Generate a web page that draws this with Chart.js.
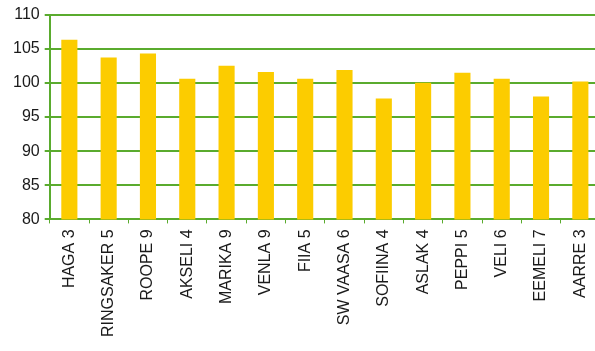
<!DOCTYPE html>
<html>
<head>
<meta charset="utf-8">
<script src="https://cdn.jsdelivr.net/npm/chart.js@4"></script>
<style>
html,body{margin:0;padding:0;background:#fff;overflow:hidden;}
#wrap{width:595px;height:351px;overflow:hidden;}
</style>
</head>
<body>
<div id="wrap"><canvas id="c" width="600" height="351"></canvas></div>
<script>
const categories = ["HAGA 3","RINGSAKER 5","ROOPE 9","AKSELI 4","MARIKA 9","VENLA 9","FIIA 5","SW VAASA 6","SOFIINA 4","ASLAK 4","PEPPI 5","VELI 6","EEMELI 7","AARRE 3"];
const values = [106.3,103.7,104.3,100.6,102.5,101.6,100.6,101.9,97.7,100.0,101.5,100.6,98.0,100.2];
const yTicks = [80,85,90,95,100,105,110];

const green = '#5aab2e';
new Chart(document.getElementById('c'), {
  type: 'bar',
  data: {
    labels: categories,
    datasets: [{
      data: values,
      backgroundColor: '#fccc00',
      borderWidth: 0,
      barPercentage: 0.41,
      categoryPercentage: 1.0
    }]
  },
  options: {
    responsive: false,
    animation: false,
    events: [],
    layout: { padding: { top: 8, right: 0, bottom: 8, left: 8 } },
    plugins: { legend: { display: false }, tooltip: { enabled: false } },
    scales: {
      x: {
        offset: true,
        afterFit: (axis) => { axis.paddingRight = 0; },
        grid: { offset: true, drawOnChartArea: false, drawTicks: true, tickLength: 4, color: green, lineWidth: 1 },
        border: { color: green, width: 2 },
        ticks: { maxRotation: 90, minRotation: 90, autoSkip: false, color: '#1a1a1a', padding: 6,
                 font: { family: 'Liberation Sans, Arial, sans-serif', size: 16 } }
      },
      y: {
        min: 80, max: 110,
        afterBuildTicks: (axis) => { axis.ticks = yTicks.map(v => ({ value: v })); },
        grid: { color: green, lineWidth: 2, tickLength: 5 },
        border: { color: green, width: 2 },
        ticks: { color: '#1a1a1a', padding: 5,
                 font: { family: 'Liberation Sans, Arial, sans-serif', size: 16 } }
      }
    }
  }
});
</script>
</body>
</html>
